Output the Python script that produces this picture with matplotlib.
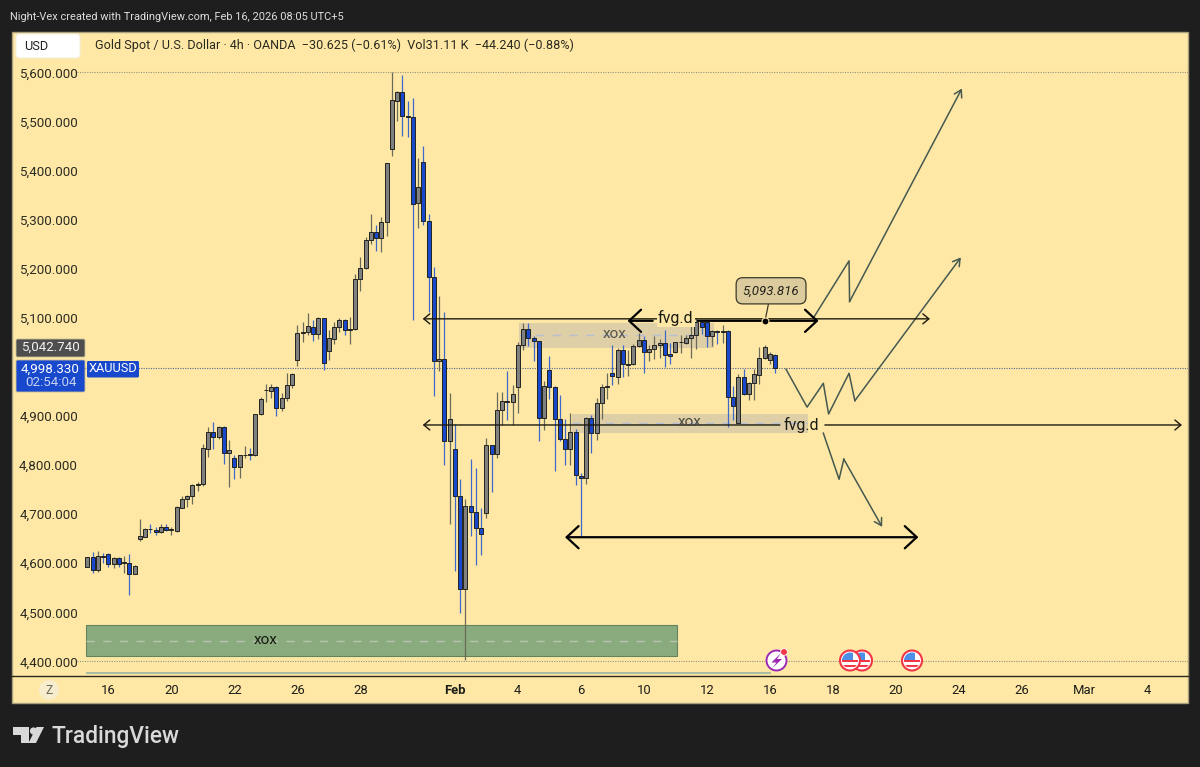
import matplotlib
matplotlib.use("Agg")
import matplotlib.pyplot as plt
from matplotlib.patches import Rectangle, FancyBboxPatch, Circle, Polygon

plt.rcParams['font.family'] = ['Roboto', 'DejaVu Sans']

# ---- 4h OHLC bars (bar index = position in list) ----
opens = [4593,4612,4586,4615,4618,4598,4610,4601,4601,4579,
         4649,4654,4670,4668,4664,4674,4668,4666,4713,4730,
         4736,4759,4761,4833,4867,4858,4878,4825,4814,4795,
         4820,4822,4820,4903,4952,4951,4958,4917,4937,4964,
         5013,5068,5072,5082,5067,5099,5033,5057,5081,5095,
         5075,5078,5179,5201,5258,5275,5263,5296,5444,5542,
         5559,5511,5508,5333,5417,5297,5183,5011,5017,4848,
         4832,4736,4548,4717,4705,4672,4702,4840,4823,4913,
         4930,4928,4958,5044,5077,5058,5052,4896,4994,4958,
         4894,4854,4833,4867,4777,4773,4895,4866,4927,4958,
         4988,4980,5034,5004,5005,5042,5055,5031,5036,5045,
         5048,5026,5031,5050,5049,5059,5064,5091,5092,5062,
         5074,5071,5073,4939,4886,4979,4944,4968,4984,5019,
         5014,5025]
highs = [4612,4622,4624,4620,4620,4613,4612,4615,4619,4596,
         4690,4672,4679,4674,4679,4680,4674,4717,4737,4738,
         4761,4765,4843,4877,4888,4880,4880,4852,4820,4821,
         4839,4835,4904,4939,4965,4965,4961,4946,4987,4987,
         5085,5091,5110,5095,5102,5100,5075,5092,5099,5097,
         5102,5189,5223,5264,5311,5288,5306,5416,5601,5561,
         5594,5541,5547,5425,5449,5311,5204,5144,5112,4946,
         4883,4772,4731,4812,4793,4712,4856,4841,4949,4949,
         4992,4963,5051,5089,5090,5063,5053,4971,5022,4960,
         4943,4893,4905,4873,4783,4897,4902,4936,4966,4987,
         5045,5038,5044,5034,5047,5068,5062,5045,5062,5057,
         5075,5048,5051,5065,5064,5104,5099,5094,5094,5076,
         5076,5085,5075,4960,4985,4995,4969,4996,5040,5044,
         5031,5027]
lows = [4593,4581,4583,4600,4593,4591,4593,4581,4535,4578,
        4646,4653,4662,4657,4661,4666,4657,4664,4712,4714,
        4721,4748,4757,4817,4832,4854,4802,4755,4771,4774,
        4814,4810,4818,4901,4929,4937,4899,4911,4931,4956,
        5002,5051,5065,5053,5057,4994,5013,5047,5072,5064,
        5046,5075,5155,5200,5250,5237,5233,5267,5430,5501,
        5470,5469,5095,5282,5288,5112,4941,4991,4800,4679,
        4585,4498,4403,4656,4596,4617,4693,4746,4815,4882,
        4892,4882,4907,5034,5042,5012,4848,4871,4935,4788,
        4849,4801,4800,4759,4654,4761,4824,4851,4893,4934,
        4963,4966,4980,4981,5003,5041,4987,5011,5017,5019,
        4999,5005,5029,5029,5047,5019,5036,5067,5041,5042,
        5047,5048,4877,4892,4885,4943,4932,4932,4965,5017,
        5005,4988]
closes = [4612,4586,4615,4613,4598,4610,4598,4602,4579,4594,
          4655,4669,4669,4664,4674,4668,4669,4714,4731,4736,
          4759,4761,4834,4867,4858,4878,4824,4830,4795,4820,
          4821,4821,4903,4934,4953,4958,4916,4937,4963,4985,
          5069,5072,5083,5067,5099,5007,5058,5081,5096,5075,
          5078,5178,5202,5258,5275,5263,5296,5415,5543,5559,
          5511,5508,5332,5367,5298,5183,5011,5017,4848,4893,
          4736,4548,4717,4705,4672,4659,4840,4823,4913,4930,
          4928,4944,5044,5077,5058,5052,4896,4962,4958,4894,
          4854,4833,4867,4779,4773,4896,4866,4927,4958,4962,
          4981,5034,5006,5006,5043,5055,5031,5036,5045,5048,
          5024,5023,5050,5051,5059,5064,5091,5082,5062,5074,
          5071,5074,4939,4920,4979,4944,4968,4985,5019,5040,
          5026,4998.33]

price_ticks = [4400,4500,4600,4700,4800,4900,5000,5100,5200,5300,5400,5500,5600]
date_ticks = [4,16,28,40,52,70,82,94,106,118,130,142,154,166,178,190,202]
date_labels = ['16','20','22','26','28','Feb','4','6','10','12','16','18','20','24','26','Mar','4']

last_price = 4998.33
fvg_high = 5093.816
fvg_low = 4881.6
target_price = 4653

# Drawn paths: (bar, price)
path_up_high = [(138.3,5099.5),(145.1,5216),(145.2,5133),(166.6,5567)]
path_up_low = [(133.1,4995),(137.1,4918),(140.2,4966.5),(141.2,4904),(145.1,4987),(146.2,4931),(166.4,5223)]
path_down = [(140.2,4865),(143.2,4771),(144.1,4812),(151.4,4674)]

# Zones: (bar start, bar end, low price, high price)
zone_upper = (82.2,119.2,5041,5090)
zone_lower = (92.3,137.1,4868,4904)
zone_green = (-0.25,112.3,4411,4474)

W, H = 1200, 767
BG = '#1e1e1e'
PANEL = '#ffe8a6'
UP, DOWN = '#808080', '#1848cc'
UPW, DOWNW = '#6a6a58', '#3f69c8'
INK = '#1c1a10'
PATH = '#46594f'

fig = plt.figure(figsize=(W/100, H/100), dpi=100, facecolor=BG)

# Panel behind the chart
bg = fig.add_axes([0,0,1,1], zorder=0)
bg.set_xlim(0,W); bg.set_ylim(H,0); bg.axis('off')
bg.add_patch(Rectangle((12,32),1176,671,fc=PANEL,ec='#a89f7c',lw=1))

# Main chart
ax = fig.add_axes([12/W,(H-675.5)/H,1176/W,643.5/H], zorder=1, facecolor='none')
ax.set_xlim(-14.34,209.66)
ax.set_ylim(4371.3,5682.1)
for s in ('top','left','right'):
    ax.spines[s].set_visible(False)
ax.spines['bottom'].set_color('#2a2818'); ax.spines['bottom'].set_linewidth(1)
ax.set_yticks(price_ticks)
ax.set_yticklabels([f'{p:,.3f}' for p in price_ticks])
ax.tick_params(axis='y', length=0, pad=-47.5, labelsize=9.6, labelcolor='#2b2b22')
ax.set_xticks(date_ticks)
ax.set_xticklabels(date_labels)
ax.tick_params(axis='x', length=0, pad=6, labelsize=9.4, labelcolor='#1c1c18')
ax.get_xticklabels()[5].set_fontweight('bold')

# grid-like dotted lines
ax.hlines([5600,4400],-1.9,209.66,colors='#97927a',linestyles=(0,(1,1.2)),lw=0.8,zorder=1)
ax.hlines(last_price,-1,209.66,colors='#56688f',linestyles=(0,(1,1.2)),lw=0.8,zorder=1)

# zones
def zone(z, fc, ec, dash, txt, tc, tx, ty):
    x0,x1,y0,y1 = z
    ax.add_patch(Rectangle((x0,y0),x1-x0,y1-y0,fc=fc,ec=ec,lw=0.8,zorder=2))
    ax.hlines((y0+y1)/2,x0,x1,colors=dash,linestyles=(0,(6,6)),lw=1,zorder=2.1)
    ax.text(tx,ty,txt,ha='center',va='center',fontsize=11,color=tc,zorder=7)

zone(zone_upper,'#decfa6','#decfa6','#b9bfd2','xox','#55534a',100.5,5066)
zone(zone_lower,'#decfa6','#decfa6','#b9bfd2','xox','#4a483e',114.7,4888)
zone(zone_green,'#89ab7e','#64825c','#b9c4b0','xox','#15180f',34,4444)
ax.hlines(4376,-0.25,130.2,colors='#a9bda0',lw=1.5,zorder=2)

# candles
xs = list(range(len(closes)))
wick_cols = [UPW if c>=o else DOWNW for o,c in zip(opens,closes)]
body_cols = [UP if c>=o else DOWN for o,c in zip(opens,closes)]
ax.vlines(xs,lows,highs,colors=wick_cols,lw=0.9,zorder=3)
ax.bar(xs,[abs(c-o) for o,c in zip(opens,closes)],bottom=[min(o,c) for o,c in zip(opens,closes)],
       width=0.76,color=body_cols,edgecolor='#23231e',linewidth=0.7,zorder=4)

# arrows
def arrow(x0,x1,y,style,lw,c=INK):
    ax.annotate('',xy=(x1,y),xytext=(x0,y),zorder=6,
                arrowprops=dict(arrowstyle=style,lw=lw,color=c,shrinkA=0,shrinkB=0))
thin_l = '<-,head_length=0.43,head_width=0.36'
thin_r = '->,head_length=0.43,head_width=0.36'
thick_l = '<-,head_length=0.86,head_width=0.8'
thick_r = '->,head_length=0.86,head_width=0.8'
arrow(63.9,160.5,fvg_high+4,'<->,head_length=0.43,head_width=0.36',1.0)
arrow(102.9,107.7,fvg_high,thick_l,1.6,'#000000')
arrow(116.3,139.3,fvg_high,thick_r,1.6,'#000000')
arrow(63.9,131.9,fvg_low,thin_l,1.0)
arrow(140.5,208.5,fvg_low,thin_r,1.0)
arrow(91.0,158.3,target_price,'<->,head_length=0.86,head_width=0.8',1.6,'#000000')
ax.text(112.1,fvg_high+6,'fvg.d',ha='center',va='center',fontsize=11.5,color='#1a1a14',zorder=7,
        bbox=dict(fc=PANEL,ec='none',pad=0.8))
ax.text(136.1,fvg_low,'fvg.d',ha='center',va='center',fontsize=11.5,color='#1a1a14',zorder=7)

# drawn paths
for path in (path_up_high,path_up_low,path_down):
    ax.plot([p[0] for p in path[:-1]],[p[1] for p in path[:-1]],color=PATH,lw=1.1,zorder=5)
    ax.annotate('',xy=path[-1],xytext=path[-2],zorder=5,
                arrowprops=dict(arrowstyle='->,head_length=0.5,head_width=0.3',lw=1.1,color=PATH,shrinkA=0,shrinkB=0))

# price note
ax.annotate(f'{fvg_high:,.3f}',xy=(129.1,fvg_high),xytext=(6,30),textcoords='offset pixels',
            ha='center',va='center',fontsize=9.5,style='italic',color='#22211a',zorder=8,
            bbox=dict(boxstyle='round,pad=0.5,rounding_size=0.5',fc='#dccb9c',ec='#3b3a2a',lw=0.9),
            arrowprops=dict(arrowstyle='-',lw=0.9,color='#3b3a2a',shrinkA=0,shrinkB=0))
ax.plot([129.1],[fvg_high],'o',ms=5,color='#000000',mec=PANEL,mew=0.8,zorder=9)

# UI overlay
ui = fig.add_axes([0,0,1,1], zorder=2, facecolor='none')
ui.set_xlim(0,W); ui.set_ylim(H,0); ui.axis('off')
ui.text(10,16.5,'Night-Vex created with TradingView.com, Feb 16, 2026 08:05 UTC+5',
        color='#dedede',fontsize=7.95,va='center')
ui.add_patch(FancyBboxPatch((16,34),64,24,boxstyle='round,pad=0,rounding_size=3',fc='#ffffff',ec='#f4eedc',lw=0.8))
ui.text(24,46,'USD',fontsize=9.2,color='#222222',va='center')
ui.text(95,45.5,'Gold Spot / U.S. Dollar · 4h · OANDA  \u221230.625 (\u22120.61%)  Vol31.11 K  \u221244.240 (\u22120.88%)',
        fontsize=9.1,color='#2a2a20',va='center')

ui.add_patch(FancyBboxPatch((16,339),69,18,boxstyle='round,pad=0,rounding_size=1.5',fc='#4e4e4e',ec='#c9bf98',lw=0.6))
ui.text(50.5,347,f'{5042.74:,.3f}',fontsize=9.6,color='#f2f2f2',ha='center',va='center')
ui.add_patch(FancyBboxPatch((16,360),69,32,boxstyle='round,pad=0,rounding_size=1.5',fc='#1848cc',ec='#c9bf98',lw=0.6))
ui.text(50.5,369,f'{last_price:,.3f}',fontsize=9.6,color='#ffffff',ha='center',va='center')
ui.text(50.5,383,'02:54:04',fontsize=9.6,color='#c6d2f2',ha='center',va='center')
ui.add_patch(FancyBboxPatch((87,361),52,16.5,boxstyle='round,pad=0,rounding_size=1.5',fc='#1848cc',ec='none'))
ui.text(113,369,'XAUUSD',fontsize=9.2,color='#ffffff',ha='center',va='center')

ui.add_patch(Circle((49,690),10,fc='#f7edcc',ec='none'))
ui.text(49,690,'Z',fontsize=8.6,color='#6a6a60',ha='center',va='center')

# event icons
ui.add_patch(Circle((776.5,660.5),11,fc='#fff6dc',ec='none'))
ui.add_patch(Circle((776.5,660.5),10,fc='#ffffff',ec='#9c27b0',lw=1.4))
ui.add_patch(Polygon([(781,653),(771.5,662.5),(776.5,662.5),(772.5,668),(782,659),(777,659)],fc='#9c27b0',ec='none'))
ui.add_patch(Circle((784,652),3.4,fc='#f23645',ec='#ffffff',lw=0.6))
for cx in (862,850,912):
    z = 3 + (0 if cx != 850 else 0.5)
    ui.add_patch(Circle((cx,660.5),10,fc='#ffffff',ec='#f23645',lw=1.5,zorder=z))
    clip = Circle((cx,660.5),8,transform=ui.transData)
    for yy in (660,664.5):
        r = Rectangle((cx-10,yy),20,2.2,fc='#f23645',ec='none',zorder=z+0.1)
        ui.add_patch(r); r.set_clip_path(clip)
    b = Rectangle((cx-10,651),12.5,8.5,fc='#4d8fe8',ec='none',zorder=z+0.2)
    ui.add_patch(b); b.set_clip_path(clip)

# logo
LOGO = '#d9d9d9'
ui.add_patch(Polygon([(13,727),(29,727),(29,743),(21,743),(21,735),(13,735)],fc=LOGO,ec='none'))
ui.add_patch(Circle((33.5,731),3.6,fc=LOGO,ec='none'))
ui.add_patch(Polygon([(36.5,727),(44,727),(36,743),(28.5,743)],fc=LOGO,ec='none'))
ui.text(51,736,'TradingView',fontsize=16.4,fontweight=500,color=LOGO,va='center')

fig.savefig('out.png',dpi=100,facecolor=BG)
